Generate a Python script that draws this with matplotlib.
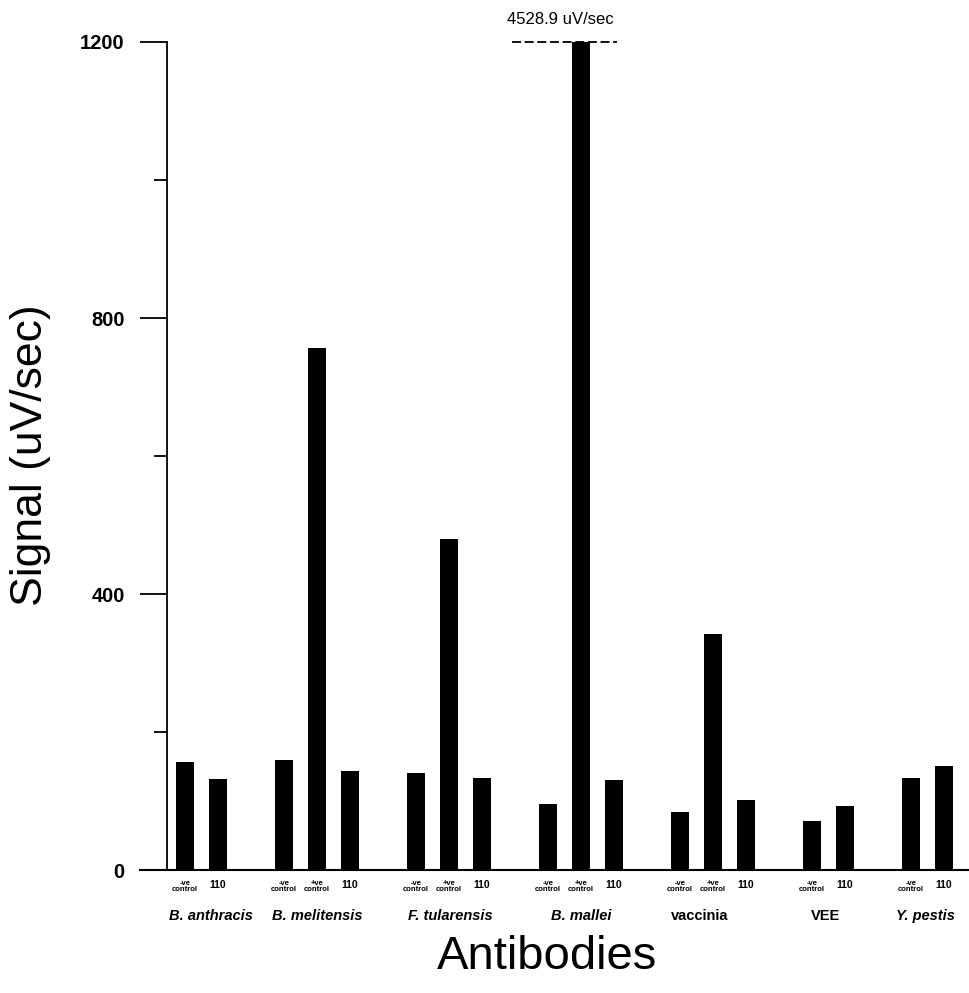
import numpy as np
import matplotlib
matplotlib.use("Agg")
import matplotlib.pyplot as plt
from matplotlib.transforms import blended_transform_factory

plt.rcParams['font.family'] = ['Liberation Sans', 'DejaVu Sans']

# Data
groups = ['B. anthracis', 'B. melitensis', 'F. tularensis', 'B. mallei',
          'vaccinia', 'VEE', 'Y. pestis']
bar_labels = [
    ['-ve\ncontrol', '110'],
    ['-ve\ncontrol', '+ve\ncontrol', '110'],
    ['-ve\ncontrol', '+ve\ncontrol', '110'],
    ['-ve\ncontrol', '+ve\ncontrol', '110'],
    ['-ve\ncontrol', '+ve\ncontrol', '110'],
    ['-ve\ncontrol', '110'],
    ['-ve\ncontrol', '110'],
]
values = [
    [156, 132],
    [160, 756, 144],
    [140, 479, 133],
    [96, 4528.9, 131],
    [84, 342, 101],
    [71, 93],
    [134, 151],
]
y_ticks = [0, 400, 800, 1200]
y_minor = [200, 600, 1000]
off_scale = 4528.9  # B. mallei +ve control, drawn clipped at 1200

# slot positions: one empty slot after every group
pos, heights, labels, centers = [], [], [], []
x = 0
for lab, val in zip(bar_labels, values):
    start = x
    for l, v in zip(lab, val):
        pos.append(x)
        heights.append(v)
        labels.append(l)
        x += 1
    centers.append((start + x - 1) / 2)
    x += 1

# small shifts of the group names, as placed in the original
name_shift = [0.3, 0, 0.05, 0, -0.4, -0.1, -0.05]
# species names are italic, the viruses are not
name_style = ['italic', 'italic', 'italic', 'italic', 'normal', 'normal', 'italic']

fig = plt.figure(figsize=(9.69, 9.93), dpi=100)
ax = fig.add_axes([140/969, 123/993, 829/969, 828/993])

ax.bar(pos, heights, width=0.55, color='black')

ax.set_xlim(-45/33, 784/33)
ax.set_ylim(0, 1200)

for s in ['top', 'right']:
    ax.spines[s].set_visible(False)
ax.spines['left'].set_position(('data', -18/33))
ax.spines['left'].set_linewidth(1.3)
ax.spines['bottom'].set_linewidth(1.5)

ax.set_yticks(y_ticks)
ax.set_yticklabels([str(t) for t in y_ticks], fontsize=14.5, fontweight='bold')
ax.set_yticks(y_minor, minor=True)
ax.tick_params(axis='y', which='major', length=19.4, width=1.3, pad=11)
ax.tick_params(axis='y', which='minor', length=9.4, width=1.3)

ax.set_xticks(pos)
ax.set_xticklabels(labels, fontweight='bold', linespacing=0.9)
for t, l in zip(ax.get_xticklabels(), labels):
    t.set_fontsize(7.5 if l == '110' else 5.5)
ax.tick_params(axis='x', length=0, pad=7)

trans = blended_transform_factory(ax.transData, ax.transAxes)
for c, d, g, st in zip(centers, name_shift, groups, name_style):
    ax.text(c + d, -0.056, g, transform=trans, ha='center', va='center',
            fontsize=10.5, fontweight='bold', fontstyle=st)

# off-scale marker for B. mallei +ve control
ax.plot([9.91, 13.09], [1200, 1200], color='black', lw=1.3,
        linestyle=(0, (5, 2)), clip_on=False)
ax.text(11.36, 1200 + 22/0.69, f'{off_scale} uV/sec', ha='center', va='center',
        fontsize=12, fontweight='medium', clip_on=False)

fig.text(31/969, (993-455)/993, 'Signal (uV/sec)', rotation=90,
         ha='center', va='center', fontsize=32)
fig.text(547/969, (993-957)/993, 'Antibodies', ha='center', va='center',
         fontsize=34)

fig.savefig('out.png', dpi=100)
